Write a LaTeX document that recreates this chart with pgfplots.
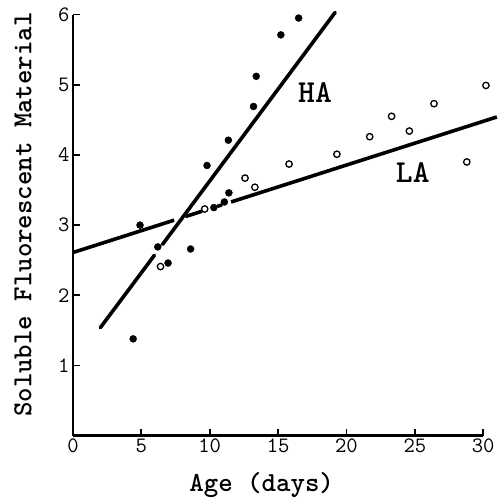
\documentclass[border=0pt]{standalone}
\usepackage{pgfplots}
\pgfplotsset{compat=1.18}
\begin{document}
\begin{tikzpicture}
\begin{axis}[
  scale only axis, width=410pt, height=421pt,
  xmin=0, xmax=30, ymin=0, ymax=6,
  axis lines=left, axis line style={-, line width=2.5pt},
  clip=false,
  xtick={0,5,...,30}, ytick={1,...,6},
  tick align=inside, major tick length=7pt,
  every tick/.style={line width=1.8pt, black},
  tick label style={font=\fontsize{22}{22}\selectfont\ttfamily},
  /pgf/number format/assume math mode=true,
  xlabel={Age (days)}, ylabel={Soluble Fluorescent Material},
  label style={font=\fontsize{27.5}{27.5}\selectfont\ttfamily\bfseries},
  xlabel style={at={(rel axis cs:0.46,-0.117)}, anchor=center},
  ylabel style={at={(rel axis cs:-0.122,0.525)}, anchor=center},
]
% HA data (filled)
\addplot[only marks, mark=*, mark size=3.5pt, black] coordinates {
(4.4,1.38) (4.9,3.0) (6.2,2.69) (6.95,2.46) (8.6,2.66) (9.8,3.85) (10.3,3.25)
(11.07,3.33) (11.4,3.46) (11.36,4.21) (13.2,4.69) (13.4,5.12) (15.2,5.71) (16.5,5.95)};
% LA data (open)
\addplot[only marks, mark=o, mark size=3.2pt, mark options={line width=1.3pt}, black] coordinates {
(6.4,2.41) (9.63,3.23) (12.58,3.67) (13.3,3.54) (15.8,3.87) (19.3,4.01) (21.7,4.26)
(23.3,4.55) (24.6,4.34) (26.4,4.73) (28.8,3.90) (30.2,4.99)};
% HA line
\addplot[line width=3.6pt, black, line cap=round] coordinates {(2.0,1.54) (5.95,2.57)};
\addplot[line width=3.6pt, black, line cap=round] coordinates {(6.55,2.726) (19.17,6.03)};
% LA line
\addplot[line width=3.6pt, black] coordinates {(0,2.61) (7.4,3.071)};
\addplot[line width=3.6pt, black, line cap=round] coordinates {(8.27,3.125) (9.4,3.196)};
\addplot[line width=3.6pt, black, line cap=round] coordinates {(10.6,3.270) (10.85,3.286)};
\addplot[line width=3.6pt, black] coordinates {(11.56,3.330) (31.0,4.541)};
\node[font=\fontsize{32}{32}\selectfont\ttfamily\bfseries] at (axis cs:17.7,4.89) {HA};
\node[font=\fontsize{32}{32}\selectfont\ttfamily\bfseries] at (axis cs:24.85,3.75) {LA};
\coordinate (bl) at (axis cs:-5.34,-0.887);
\coordinate (tr) at (axis cs:31.02,6.207);
\end{axis}
\pgfresetboundingbox
\useasboundingbox (bl) rectangle (tr);
\end{tikzpicture}
\end{document}
